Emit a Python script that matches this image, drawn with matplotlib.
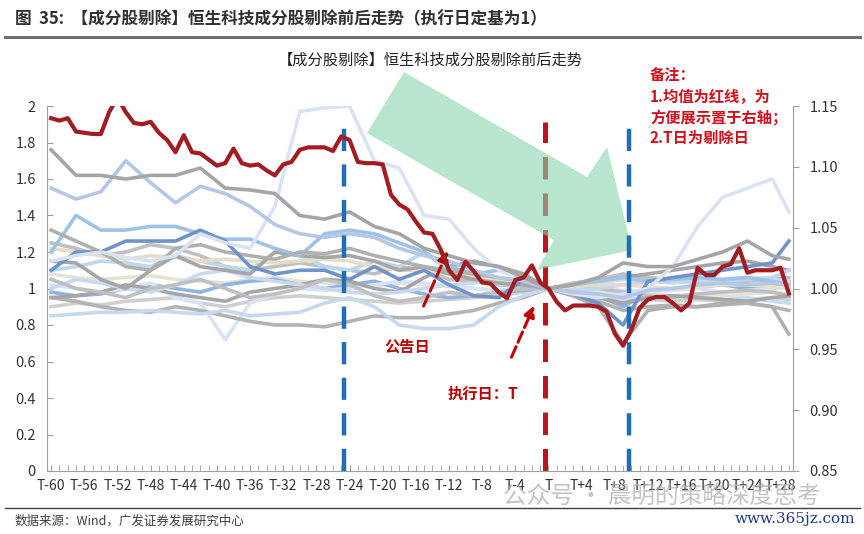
import matplotlib
matplotlib.use("Agg")
import matplotlib.pyplot as plt
from matplotlib.patches import Polygon
import numpy as np

plt.rcParams['font.family'] = ['Noto Sans CJK SC', 'DejaVu Sans']

# days relative to execution date T
days = list(range(-60, 30))
# mean of constituents (right axis)
mean_line = [1.140, 1.138, 1.140, 1.129, 1.128, 1.127, 1.127, 1.145, 1.157, 1.145,
             1.136, 1.135, 1.137, 1.128, 1.122, 1.112, 1.126, 1.112, 1.111, 1.106,
             1.101, 1.103, 1.115, 1.103, 1.101, 1.102, 1.097, 1.093, 1.102, 1.104,
             1.114, 1.116, 1.116, 1.116, 1.113, 1.125, 1.122, 1.104, 1.103, 1.103,
             1.102, 1.077, 1.069, 1.065, 1.055, 1.046, 1.045, 1.032, 1.015, 1.007,
             1.022, 1.014, 1.005, 1.004, 0.997, 0.992, 1.007, 1.009, 1.019, 1.005,
             1.000, 0.989, 0.982, 0.986, 0.986, 0.986, 0.985, 0.981, 0.963, 0.953,
             0.966, 0.984, 0.991, 0.993, 0.993, 0.988, 0.982, 0.988, 1.017, 1.011,
             1.011, 1.018, 1.020, 1.033, 1.013, 1.015, 1.015, 1.015, 1.017, 0.996]

# constituent stocks sampled every 3 days (left axis)
stock_days = [-60, -57, -54, -51, -48, -45, -42, -39, -36, -33, -30, -27, -24, -21, -18,
              -15, -12, -9, -6, -3, 0, 3, 6, 9, 12, 15, 18, 21, 24, 27, 29]
s1 = [1.76, 1.62, 1.62, 1.60, 1.62, 1.62, 1.66, 1.55, 1.54, 1.52, 1.40, 1.38, 1.42, 1.34, 1.30, 1.22, 1.18, 1.14, 1.12, 1.06, 1.00, 1.02, 1.06, 1.14, 1.12, 1.12, 1.16, 1.20, 1.26, 1.18, 1.16]
s2 = [1.55, 1.49, 1.53, 1.70, 1.58, 1.47, 1.56, 1.52, 1.45, 1.35, 1.30, 1.28, 1.30, 1.28, 1.22, 1.18, 1.15, 1.10, 1.06, 1.04, 1.00, 0.98, 0.97, 0.95, 0.99, 1.00, 1.02, 1.03, 1.02, 1.03, 1.02]
s3 = [1.15, 1.18, 1.20, 1.17, 1.15, 1.18, 1.30, 1.25, 1.22, 1.45, 1.97, 1.99, 2.00, 1.70, 1.66, 1.40, 1.38, 1.22, 1.10, 1.05, 1.00, 0.97, 0.95, 0.97, 1.00, 1.12, 1.34, 1.50, 1.55, 1.60, 1.42]
s4 = [1.10, 1.20, 1.20, 1.26, 1.26, 1.26, 1.32, 1.26, 1.12, 1.08, 1.10, 1.10, 1.05, 1.12, 1.05, 1.10, 1.02, 0.96, 0.95, 1.05, 1.00, 0.97, 0.92, 0.80, 1.04, 1.06, 1.08, 1.10, 1.12, 1.14, 1.26]
s5 = [1.32, 1.26, 1.20, 1.12, 1.10, 1.22, 1.24, 1.20, 1.18, 1.16, 1.20, 1.19, 1.22, 1.18, 1.15, 1.12, 1.10, 1.08, 1.06, 1.04, 1.00, 0.96, 0.90, 0.70, 0.88, 0.90, 0.90, 0.92, 0.92, 0.90, 0.75]
s6 = [1.20, 1.40, 1.32, 1.32, 1.34, 1.34, 1.30, 1.27, 1.27, 1.22, 1.18, 1.30, 1.32, 1.30, 1.25, 1.20, 1.12, 1.08, 1.10, 1.06, 1.00, 1.02, 1.04, 1.06, 1.04, 1.05, 1.06, 1.05, 1.06, 1.04, 1.02]
s7 = [1.15, 1.14, 1.05, 1.00, 1.10, 1.18, 1.12, 1.10, 1.08, 1.20, 1.18, 1.17, 1.18, 1.15, 1.10, 1.12, 1.08, 1.05, 1.03, 1.02, 1.00, 0.97, 0.95, 0.92, 0.95, 0.96, 0.95, 0.94, 0.93, 0.95, 0.96]
s8 = [1.22, 1.20, 1.18, 1.16, 1.18, 1.17, 1.15, 1.16, 1.15, 1.14, 1.15, 1.16, 1.15, 1.12, 1.10, 1.10, 1.08, 1.07, 1.05, 1.03, 1.00, 1.01, 1.02, 1.02, 1.01, 1.00, 1.01, 1.02, 1.02, 1.01, 1.00]
s9 = [1.10, 1.12, 1.15, 1.14, 1.12, 1.18, 1.15, 1.12, 1.10, 1.20, 1.18, 1.12, 1.10, 1.15, 1.12, 1.20, 1.10, 1.05, 1.02, 1.05, 1.00, 0.99, 1.00, 1.02, 1.04, 1.05, 1.03, 1.04, 1.05, 1.06, 1.10]
s10 = [1.05, 1.00, 0.98, 0.95, 1.00, 1.02, 1.05, 1.00, 0.95, 0.97, 1.00, 1.05, 1.02, 0.96, 0.93, 0.95, 0.98, 0.96, 0.98, 1.00, 1.00, 1.02, 1.00, 0.98, 0.96, 0.95, 0.97, 0.98, 0.99, 0.98, 0.96]
s11 = [1.00, 1.05, 1.03, 1.00, 0.98, 1.02, 1.08, 1.10, 1.06, 1.04, 1.02, 1.00, 0.98, 0.97, 0.98, 1.00, 1.02, 1.03, 1.04, 1.02, 1.00, 1.01, 1.03, 1.05, 1.04, 1.03, 1.04, 1.05, 1.06, 1.05, 1.04]
s12 = [0.95, 0.96, 0.98, 1.02, 1.00, 0.97, 0.95, 0.93, 0.98, 1.00, 1.02, 1.05, 1.04, 1.00, 0.98, 1.06, 1.12, 1.15, 1.12, 1.08, 1.00, 1.02, 1.04, 1.06, 1.08, 1.10, 1.12, 1.14, 1.15, 1.12, 1.10]
s13 = [0.85, 0.86, 0.87, 0.87, 0.88, 0.87, 0.86, 0.88, 0.85, 0.86, 0.87, 0.92, 0.95, 0.90, 0.80, 0.78, 0.78, 0.80, 0.90, 0.96, 1.00, 0.98, 0.96, 0.94, 0.95, 0.96, 0.95, 0.94, 0.95, 0.93, 0.92]
s14 = [0.95, 0.93, 0.90, 0.88, 0.87, 0.90, 0.88, 0.85, 0.82, 0.80, 0.80, 0.79, 0.82, 0.85, 0.84, 0.84, 0.86, 0.88, 0.92, 0.95, 1.00, 0.96, 0.93, 0.88, 0.90, 0.91, 0.90, 0.91, 0.92, 0.90, 0.88]
s15 = [1.02, 1.00, 0.98, 1.00, 1.03, 0.95, 0.92, 0.72, 0.92, 0.97, 1.00, 0.99, 1.00, 1.02, 1.04, 1.03, 1.02, 1.00, 0.99, 1.00, 1.00, 1.01, 1.00, 0.99, 0.98, 0.99, 1.00, 0.98, 0.99, 1.00, 1.01]
s16 = [1.25, 1.22, 1.18, 1.20, 1.24, 1.22, 1.18, 1.12, 1.10, 1.12, 1.14, 1.12, 1.10, 1.08, 1.12, 1.10, 1.05, 1.04, 1.02, 1.01, 1.00, 1.03, 1.05, 1.08, 1.06, 1.05, 1.04, 1.03, 1.04, 1.05, 1.06]
s17 = [0.98, 0.96, 0.97, 1.00, 1.02, 1.00, 0.98, 1.02, 1.04, 1.05, 1.02, 1.00, 1.02, 1.04, 1.00, 0.97, 0.95, 0.96, 0.98, 0.99, 1.00, 0.98, 0.96, 0.90, 0.98, 1.00, 1.01, 1.02, 1.00, 1.02, 1.03]
s18 = [1.08, 1.06, 1.05, 1.06, 1.07, 1.05, 1.04, 1.03, 1.05, 1.06, 1.04, 1.03, 1.02, 1.01, 1.03, 1.02, 1.01, 1.00, 0.99, 1.00, 1.00, 0.99, 0.98, 0.97, 0.97, 0.96, 0.97, 0.96, 0.97, 0.98, 0.97]
s19 = [0.90, 0.92, 0.91, 0.93, 0.94, 0.95, 0.92, 0.90, 0.93, 0.95, 0.96, 0.95, 0.94, 0.93, 0.92, 0.93, 0.94, 0.95, 0.96, 0.98, 1.00, 0.97, 0.95, 0.92, 0.94, 0.93, 0.94, 0.93, 0.94, 0.95, 0.94]

stocks = [s19, s18, s17, s16, s15, s14, s13, s12, s11, s10, s9, s8, s7, s6, s5, s4, s3, s2, s1]
stock_colors = ['#d0d0d0', '#e8e2d4', '#8eb4e3', '#c0c0c0', '#d6e4f5', '#b3b3b3', '#c5d9f1',
                '#a6a6a6', '#c9daf0', '#bfbfbf', '#bdd7ee', '#e6dcc8', '#a6a6a6', '#9dc3e6',
                '#b0b0b0', '#6f93cb', '#dae3f3', '#b4c7e7', '#a5a5a5']

tick_days = list(range(-60, 29, 4))
tick_labels = ['T' if d == 0 else ('T%+d' % d) for d in tick_days]

fig = plt.figure(figsize=(8.64, 5.34), dpi=100)
ax = fig.add_axes([47/864, 1-471/534, 746/864, 365/534])

# execution-day line sits under the arrow
ax.plot([-0.4, -0.4], [0, 1.91], color='#c0121c', lw=3.6, dashes=(4.5, 2.8), zorder=1)

arrow_pts = [(0.429, 0.926), (0.4786, 1.093), (0.7239, 0.8055), (0.7507, 0.8877),
             (0.7842, 0.6055), (0.6568, 0.5507), (0.6796, 0.6329)]
ax.add_patch(Polygon(arrow_pts, closed=True, transform=ax.transAxes, facecolor='#87d5ac',
                     edgecolor='none', alpha=0.6, zorder=2, clip_on=False))

for vals, c in zip(stocks, stock_colors):
    ax.plot(stock_days, vals, color=c, lw=2.6, zorder=3, solid_joinstyle='round')

for xv in (-24.7, 9.7):
    ax.plot([xv, xv], [0, 1.93], color='#1f6fb6', lw=3.2, dashes=(5, 3), zorder=4)

ax.set_xlim(-60.5, 29.5)
ax.set_ylim(0, 2)
ax.set_yticks(np.arange(0, 2.01, 0.2))
ax.set_yticklabels(['0', '0.2', '0.4', '0.6', '0.8', '1', '1.2', '1.4', '1.6', '1.8', '2'])
ax.set_xticks(tick_days)
ax.set_xticklabels(tick_labels)
ax.set_xticks(days, minor=True)
ax.tick_params(axis='x', which='both', direction='in', length=4, color='#a0a0a0',
               labelsize=10, labelcolor='#333333', pad=6)
ax.tick_params(axis='y', direction='in', length=4, color='#a0a0a0', labelsize=10.5,
               labelcolor='#333333', pad=8)
for sp in ['top', 'right']:
    ax.spines[sp].set_visible(False)
for sp in ['left', 'bottom']:
    ax.spines[sp].set_color('#a0a0a0')

ax2 = ax.twinx()
ax2.plot(days, mean_line, color='#a31c22', lw=3.0, zorder=5)
ax2.set_ylim(0.85, 1.15)
ax2.set_yticks([0.85, 0.90, 0.95, 1.00, 1.05, 1.10, 1.15])
ax2.set_yticklabels(['0.85', '0.90', '0.95', '1.00', '1.05', '1.10', '1.15'])
ax2.tick_params(axis='y', direction='out', length=4, color='#a0a0a0', labelsize=10.5,
                labelcolor='#333333', pad=8)
for sp in ['top', 'left', 'bottom']:
    ax2.spines[sp].set_visible(False)
ax2.spines['right'].set_color('#a0a0a0')

# dashed annotation arrows
red = '#c00000'
ax.annotate('', xy=(-12.0, 1.22), xytext=(-15.2, 0.89),
            arrowprops=dict(arrowstyle='-|>', color=red, lw=2.2, ls='--', mutation_scale=16))
ax.annotate('', xy=(-1.6, 0.92), xytext=(-4.6, 0.61),
            arrowprops=dict(arrowstyle='-|>', color=red, lw=2.2, ls='--', mutation_scale=16))
ax.text(-17.0, 0.68, '公告日', color=red, fontsize=11, fontweight='bold', ha='center', va='center')
ax.text(-7.9, 0.42, '执行日：T', color=red, fontsize=11, fontweight='bold', ha='center', va='center')

# header / footer
fig.text(15/864, 1-19/534, '图  35:  【成分股剔除】恒生科技成分股剔除前后走势（执行日定基为1）',
         fontsize=12, fontweight='bold', color='#303030', va='center')
fig.add_artist(plt.Line2D([5/864, 860/864], [1-37/534, 1-37/534], color='#707070', lw=2.2))
fig.text(430/864, 1-60/534, '【成分股剔除】恒生科技成分股剔除前后走势', fontsize=11,
         color='#222222', ha='center', va='center')
fig.text(650/864, 1-68/534, '备注：\n1.均值为红线，为\n方便展示置于右轴；\n2.T日为剔除日',
         fontsize=11, fontweight='bold', style='italic', color='#d0101a', va='top',
         linespacing=1.35)
fig.add_artist(plt.Line2D([5/864, 860/864], [1-508/534, 1-508/534], color='#404040', lw=1.0))
fig.text(15/864, 1-521/534, '数据来源：Wind，广发证券发展研究中心', fontsize=9,
         color='#404040', va='center')
fig.text(662/864, 1-496/534, '公众号 · 晨明的策略深度思考', fontsize=17, color='#b0b0b0',
         alpha=0.75, ha='center', va='center')
fig.text(855/864, 1-519/534, 'www.365jz.com', fontsize=11, color='#1a3a8a',
         family=['DejaVu Serif'], ha='right', va='center')

fig.savefig('out.png', dpi=100)
